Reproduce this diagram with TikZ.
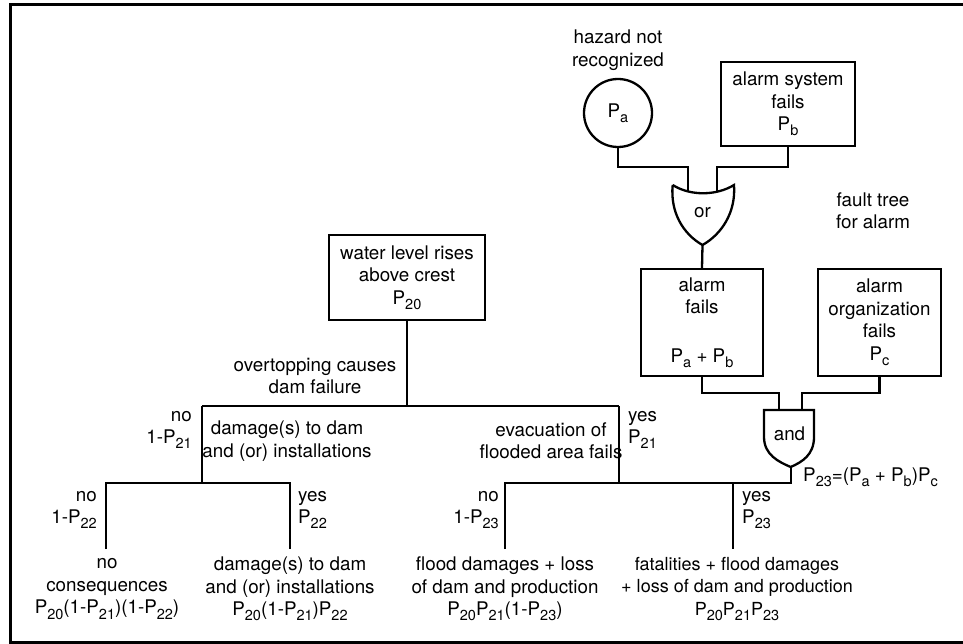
\documentclass[tikz,border=0pt]{standalone}
\usepackage{fontspec}
\setmainfont{TeX Gyre Heros}
\newcommand{\prob}[1]{P\raisebox{-0.28em}{\fontsize{14.5}{14.5}\selectfont #1}}
\tikzset{
  box/.style={draw, line width=2.3pt, align=center, inner sep=0pt},
  txt/.style={align=center, inner sep=0pt},
  link/.style={line width=2.3pt},
}
\begin{document}
\begin{tikzpicture}[x=1pt, y=-1pt, font=\fontsize{18.8}{22.5}\selectfont]
\useasboundingbox (0,0) rectangle (963,644);
% frame, cut off on the right
\draw[line width=3pt] (975,5) -- (10,5) -- (10,642) -- (975,642);

% fault tree for the alarm
\node[txt] (hazard) at (618,50) {hazard not\\recognized};
\node[circle, draw, line width=2.3pt, minimum size=68pt, inner sep=0pt] (pa) at (618,113) {\prob{a}};
\node[box, minimum width=134pt, minimum height=84pt] (sys) at (788,104) {alarm system\\fails\\\prob{b}};
\node[txt] (faultlbl) at (873,211) {fault tree\\for alarm};

\draw[link] (672.7,185) .. controls (690,196) and (716,196) .. (734,185)
  .. controls (736,212) and (722,234) .. (702.5,245)
  .. controls (683,234) and (670,212) .. (672.7,185);
\node[txt] (orlbl) at (702.5,213) {or};
\coordinate (orin1) at (688,191);
\coordinate (orin2) at (717,191);
\coordinate (orout) at (702.5,245);
\draw[link] (pa.south) -- ++(0,19) -| (orin1);
\draw[link] (sys.south) -- ++(0,20) -| (orin2);

\node[box, minimum width=122pt, minimum height=107pt] (afail) at (702,322.5) {alarm\\fails\\[26pt]\prob{a} + \prob{b}};
\node[box, minimum width=123pt, minimum height=107pt] (org) at (879.5,322.5) {alarm\\organization\\fails\\\prob{c}};
\draw[link] (orout) -- (afail.north);

\draw[link] (764,410) -- (764,437) .. controls (764,455) and (779,462) .. (790.7,467)
  .. controls (802,462) and (814,455) .. (814,437) -- (814,410) -- cycle;
\node[txt] (andlbl) at (789.5,434) {and};
\coordinate (andin1) at (779,410);
\coordinate (andin2) at (802,410);
\coordinate (andout) at (790.7,467);
\draw[link] (afail.south) -- ++(0,16) -| (andin1);
\draw[link] (org.south) -- ++(0,16) -| (andin2);
\node[txt, anchor=west] (p23lbl) at (803,477) {\prob{23}=(\prob{a} + \prob{b})\prob{c}};

% event tree
\node[box, minimum width=156pt, minimum height=85pt] (p20) at (407,277.5) {water level rises\\above crest\\\prob{20}};
\node[txt] (overtop) at (315,376) {overtopping causes\\dam failure};
\coordinate (split) at (407,406);
\coordinate (dmg) at (202,406);
\coordinate (evac) at (619,406);
\coordinate (dmgsplit) at (202,483);
\coordinate (evacsplit) at (619,483);
\coordinate (leafa) at (106,549);
\coordinate (leafb) at (290,549);
\coordinate (leafc) at (505,549);
\coordinate (leafd) at (733,549);
\coordinate (p23) at (733,483);
\draw[link] (p20.south) -- (split);
\draw[link] (dmg) -- (evac);
\draw[link] (dmg) -- (dmgsplit);
\draw[link] (evac) -- (evacsplit);
\draw[link] (leafa) |- (dmgsplit) -| (leafb);
\draw[link] (leafc) |- (evacsplit) -| (leafd);
\draw[link] (andout) |- (p23);

\node[txt, anchor=east, align=right] (no21) at (192,430) {no\\1-\prob{21}};
\node[txt] (dmglbl) at (287,441) {damage(s) to dam\\and (or) installations};
\node[txt] (evaclbl) at (551,441) {evacuation of\\flooded area fails};
\node[txt, anchor=west, align=left] (yes21) at (628,430) {yes\\\prob{21}};
\node[txt, anchor=east, align=right] (no22) at (97,510) {no\\1-\prob{22}};
\node[txt, anchor=west, align=left] (yes22) at (298,510) {yes\\\prob{22}};
\node[txt, anchor=east, align=right] (no23) at (499,510) {no\\1-\prob{23}};
\node[txt, anchor=west, align=left] (yes23) at (742,510) {yes\\\prob{23}};

% outcomes
\node[txt] (nocons) at (107,589) {no\\consequences\\\prob{20}(1-\prob{21})(1-\prob{22})};
\node[txt] (damres) at (290,589) {damage(s) to dam\\and (or) installations\\\prob{20}(1-\prob{21})\prob{22}};
\node[txt] (floodres) at (505,589) {flood damages + loss\\of dam and production\\\prob{20}\prob{21}(1-\prob{23})};
\node[txt, font=\fontsize{18}{22.5}\selectfont] (fatalres) at (737,589) {fatalities + flood damages\\+ loss of dam and production\\\prob{20}\prob{21}\prob{23}};
\end{tikzpicture}
\end{document}
